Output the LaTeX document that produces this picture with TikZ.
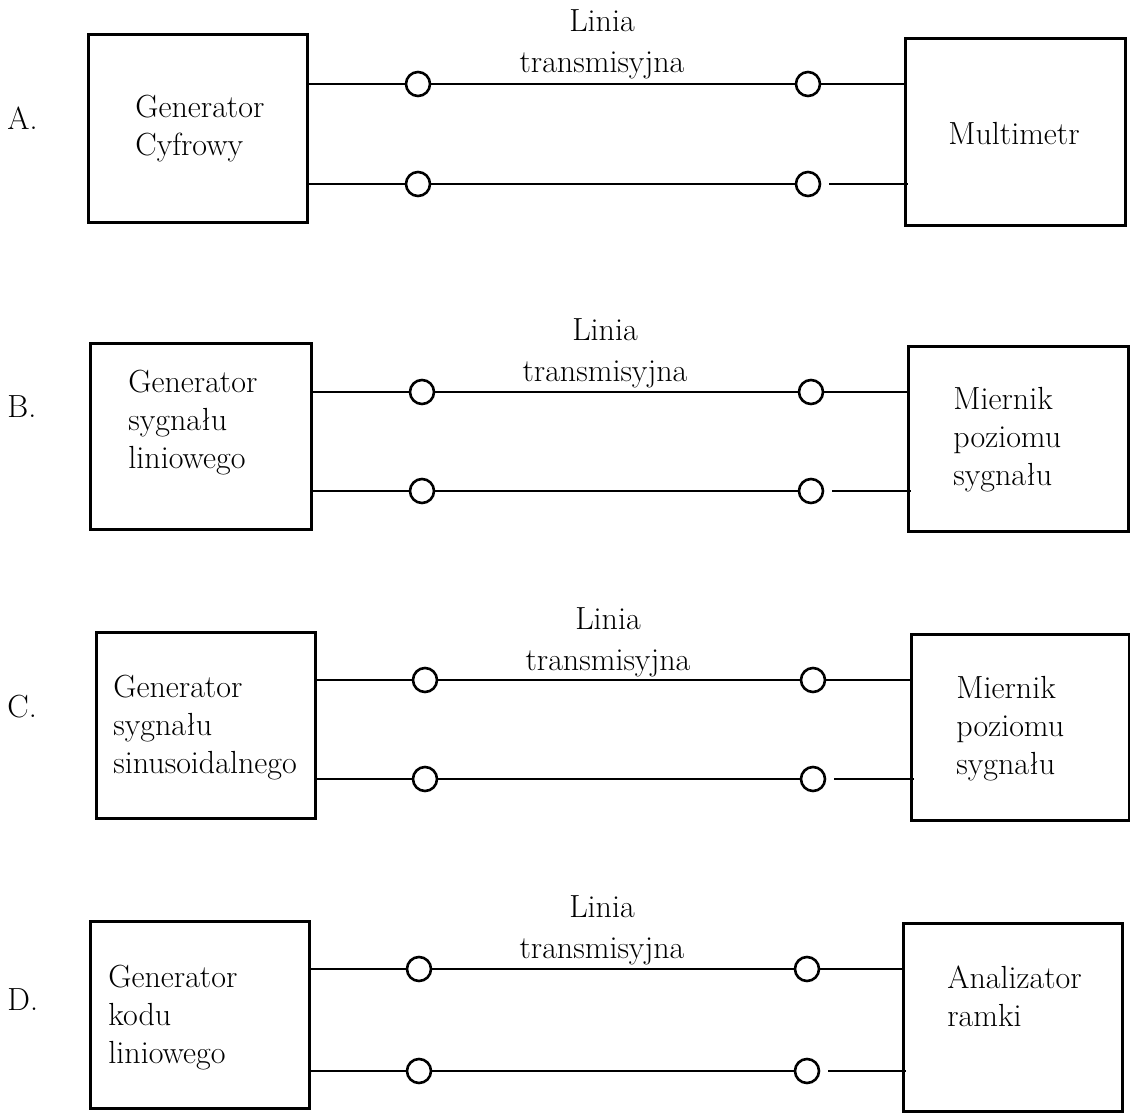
\documentclass[tikz,border=0pt]{standalone}
\newcommand\lstack[1]{\vtop{\halign{##\hfil\cr#1\crcr}}}
\newcommand\cstack[1]{\vtop{\halign{\hfil##\hfil\cr#1\crcr}}}
\begin{document}
\begin{tikzpicture}[x=0.5pt,y=-0.5pt,
  box/.style={draw, line width=1.5pt, rectangle, inner sep=0pt},
  term/.style={draw, circle, line width=1.3pt, minimum size=12pt, inner sep=0pt},
  wire/.style={line width=0.9pt},
  txt/.style={font=\fontsize{16}{19}\selectfont, inner sep=0pt, anchor=base west},
  ctxt/.style={font=\fontsize{16}{20.5}\selectfont, inner sep=0pt, anchor=base},
]
\useasboundingbox (0,0) rectangle (1130,1113);

% ---------------- A ----------------
\node[txt] (lA) at (7,130) {A.};
\node[box, minimum width=109.5pt, minimum height=93.5pt] (gA) at (197.5,128.5) {};
\node[box, minimum width=110pt, minimum height=93pt] (mA) at (1015,132) {};
\node[txt] (tgA) at (135,118) {\lstack{Generator\cr Cyfrowy}};
\node[txt] (tmA) at (948,145) {Multimetr};
\node[ctxt] (trA) at (602,32) {\cstack{Linia\cr transmisyjna}};
\node[term] (a1) at (418,84) {};
\node[term] (a2) at (808,84) {};
\node[term] (a3) at (418,184) {};
\node[term] (a4) at (808,184) {};
\draw[wire] (gA.east |- a1) -- (a1) -- (a2) -- (mA.west |- a2);
\draw[wire] (gA.east |- a3) -- (a3) -- (a4);
\draw[wire] ([xshift=4pt]a4.east) -- ([xshift=2pt]mA.west |- a4);

% ---------------- B ----------------
\node[txt] (lB) at (7,417) {B.};
\node[box, minimum width=110.5pt, minimum height=93pt] (gB) at (200.5,436) {};
\node[box, minimum width=110pt, minimum height=92.5pt] (mB) at (1018,438.5) {};
\node[txt] (tgB) at (128,392) {\lstack{Generator\cr sygnału\cr liniowego}};
\node[txt] (tmB) at (953,409) {\lstack{Miernik\cr poziomu\cr sygnału}};
\node[ctxt] (trB) at (605,340) {\cstack{Linia\cr transmisyjna}};
\node[term] (b1) at (422,392) {};
\node[term] (b2) at (811,392) {};
\node[term] (b3) at (422,491) {};
\node[term] (b4) at (811,491) {};
\draw[wire] (gB.east |- b1) -- (b1) -- (b2) -- (mB.west |- b2);
\draw[wire] (gB.east |- b3) -- (b3) -- (b4);
\draw[wire] ([xshift=4pt]b4.east) -- ([xshift=2pt]mB.west |- b4);

% ---------------- C ----------------
\node[txt] (lC) at (7,717) {C.};
\node[box, minimum width=109.5pt, minimum height=93pt] (gC) at (205.5,725) {};
\node[box, minimum width=109pt, minimum height=93pt] (mC) at (1020,727) {};
\node[txt] (tgC) at (113,697) {\lstack{Generator\cr sygnału\cr sinusoidalnego}};
\node[txt] (tmC) at (956,698) {\lstack{Miernik\cr poziomu\cr sygnału}};
\node[ctxt] (trC) at (608,629) {\cstack{Linia\cr transmisyjna}};
\node[term] (c1) at (425,680) {};
\node[term] (c2) at (813,680) {};
\node[term] (c3) at (425,779) {};
\node[term] (c4) at (813,779) {};
\draw[wire] (gC.east |- c1) -- (c1) -- (c2) -- (mC.west |- c2);
\draw[wire] (gC.east |- c3) -- (c3) -- (c4);
\draw[wire] ([xshift=4pt]c4.east) -- ([xshift=2pt]mC.west |- c4);

% ---------------- D ----------------
\node[txt] (lD) at (7,1010) {D.};
\node[box, minimum width=109.5pt, minimum height=93.5pt] (gD) at (199.5,1014.5) {};
\node[box, minimum width=109.5pt, minimum height=94pt] (mD) at (1012.5,1017) {};
\node[txt] (tgD) at (108,987) {\lstack{Generator\cr kodu\cr liniowego}};
\node[txt] (tmD) at (947,988) {\lstack{Analizator\cr ramki}};
\node[ctxt] (trD) at (602,917) {\cstack{Linia\cr transmisyjna}};
\node[term] (d1) at (419,969) {};
\node[term] (d2) at (807,969) {};
\node[term] (d3) at (419,1071) {};
\node[term] (d4) at (807,1071) {};
\draw[wire] (gD.east |- d1) -- (d1) -- (d2) -- (mD.west |- d2);
\draw[wire] (gD.east |- d3) -- (d3) -- (d4);
\draw[wire] ([xshift=4pt]d4.east) -- ([xshift=2pt]mD.west |- d4);
\end{tikzpicture}
\end{document}
